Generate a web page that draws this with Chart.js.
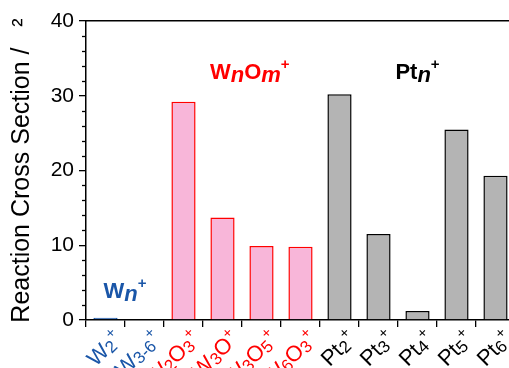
<!DOCTYPE html>
<html>
<head>
<meta charset="utf-8">
<script src="https://cdn.jsdelivr.net/npm/chart.js@4"></script>
<style>
  body { margin: 0; overflow: hidden; background: #fff; }
  #wrap { width: 525px; height: 368px; }
</style>
</head>
<body>
<div id="wrap"><canvas id="myChart"></canvas></div>
<script>
// ions on the x axis
const labels = ['W\u2082\u207A', 'W\u2083\u208B\u2086\u207A', 'W\u2082O\u2083\u207A', 'W\u2083O\u207A', 'W\u2083O\u2085\u207A', 'W\u2086O\u2083\u207A',
                'Pt\u2082\u207A', 'Pt\u2083\u207A', 'Pt\u2084\u207A', 'Pt\u2085\u207A', 'Pt\u2086\u207A'];
const groups = ['W', 'W', 'WO', 'WO', 'WO', 'WO', 'Pt', 'Pt', 'Pt', 'Pt', 'Pt'];
// reaction cross section values
const crossSection = [0.3, 0, 29.2, 13.7, 9.9, 9.8, 30.2, 11.5, 1.2, 25.5, 19.3];
const yTicks = [0, 10, 20, 30, 40];

const FONT = '"Liberation Sans", Arial, sans-serif';
const BLUE = '#1a56a8';
const RED = '#ff0000';

const fillFor = { W: BLUE, WO: '#f8b6d9', Pt: '#b4b4b4' };
const lineFor = { W: BLUE, WO: RED, Pt: '#000000' };
const textFor = { W: BLUE, WO: RED, Pt: '#000000' };

// minor ticks every 2 units on the y axis
const minorTicks = {
    id: 'minorTicks',
    afterDraw(chart) {
        const y = chart.scales.y;
        const ctx = chart.ctx;
        const x0 = chart.chartArea.left;
        ctx.save();
        ctx.strokeStyle = '#000';
        ctx.lineWidth = 1.3;
        for (let v = 0; v <= 40; v += 2) {
            if (v % 10 === 0) continue;
            const py = Math.round(y.getPixelForValue(v)) + 0.5;
            ctx.beginPath();
            ctx.moveTo(x0 - 4, py);
            ctx.lineTo(x0, py);
            ctx.stroke();
        }
        ctx.restore();
    }
};

function fontOf(p) {
    return (p.italic ? 'italic ' : '') + (p.bold ? 'bold ' : '') + p.size + 'px ' + FONT;
}

// group labels like W_n O_m +
function drawRich(ctx, cx, cy, parts, color) {
    ctx.save();
    ctx.fillStyle = color;
    ctx.textBaseline = 'middle';
    ctx.textAlign = 'left';
    let total = 0;
    parts.forEach(p => {
        p.bold = true;
        ctx.font = fontOf(p);
        p.w = ctx.measureText(p.t).width;
        total += p.w;
    });
    let x = cx - total / 2;
    parts.forEach(p => {
        ctx.font = fontOf(p);
        ctx.fillText(p.t, x, cy + (p.dy || 0));
        x += p.w;
    });
    ctx.restore();
}

const groupLabels = {
    id: 'groupLabels',
    afterDraw(chart) {
        const xs = chart.scales.x;
        const ys = chart.scales.y;
        const ctx = chart.ctx;
        drawRich(ctx, xs.getPixelForValue(0.5), ys.getPixelForValue(3.8), [
            { t: 'W', size: 22 },
            { t: 'n', size: 22, italic: true, dy: 3 },
            { t: '+', size: 15, dy: -8 }
        ], BLUE);
        drawRich(ctx, xs.getPixelForValue(3.7), ys.getPixelForValue(33), [
            { t: 'W', size: 22 },
            { t: 'n', size: 22, italic: true, dy: 3 },
            { t: 'O', size: 22 },
            { t: 'm', size: 22, italic: true, dy: 3 },
            { t: '+', size: 15, dy: -8 }
        ], RED);
        drawRich(ctx, xs.getPixelForValue(8), ys.getPixelForValue(33), [
            { t: 'Pt', size: 22 },
            { t: 'n', size: 22, italic: true, dy: 3 },
            { t: '+', size: 15, dy: -8 }
        ], '#000');
    }
};

// turn the unicode label into pieces: normal, subscript, superscript
const SUB = '\u2080\u2081\u2082\u2083\u2084\u2085\u2086\u2087\u2088\u2089';
function splitLabel(s) {
    const parts = [];
    for (const ch of s) {
        let p;
        const k = SUB.indexOf(ch);
        if (k >= 0) p = { t: String(k), size: 17, dy: 2 };
        else if (ch === '\u208B') p = { t: '-', size: 17, dy: 2 };
        else if (ch === '\u207A') p = { t: '+', size: 15, dy: -9 };
        else p = { t: ch, size: 22, dy: 0 };
        const last = parts[parts.length - 1];
        if (last && last.size === p.size && last.dy === p.dy) last.t += p.t;
        else parts.push(p);
    }
    return parts;
}

// rotated category labels drawn at the scale's tick positions
const xLabels = {
    id: 'xLabels',
    afterDraw(chart) {
        const xs = chart.scales.x;
        const ctx = chart.ctx;
        ctx.save();
        labels.forEach((lab, i) => {
            const parts = splitLabel(lab);
            let total = 0;
            parts.forEach(p => { ctx.font = fontOf(p); p.w = ctx.measureText(p.t).width; total += p.w; });
            ctx.save();
            ctx.translate(xs.getPixelForTick(i) + 5, xs.top + 7);
            ctx.rotate(-Math.PI / 4);
            ctx.fillStyle = textFor[groups[i]];
            ctx.textBaseline = 'alphabetic';
            ctx.textAlign = 'left';
            let x = -total;
            parts.forEach(p => {
                ctx.font = fontOf(p);
                ctx.fillText(p.t, x, 18 + p.dy);
                x += p.w;
            });
            ctx.restore();
        });
        ctx.restore();
    }
};

const ctx = document.getElementById('myChart').getContext('2d');
new Chart(ctx, {
    type: 'bar',
    data: {
        labels: labels,
        datasets: [{
            data: crossSection,
            backgroundColor: groups.map(g => fillFor[g]),
            borderColor: groups.map(g => lineFor[g]),
            borderWidth: 1.5,
            barPercentage: 0.62,
            categoryPercentage: 1
        }]
    },
    options: {
        responsive: true,
        maintainAspectRatio: false,
        animation: false,
        layout: { padding: { left: 0, right: 10, top: 0, bottom: 0 } },
        plugins: {
            legend: { display: false },
            tooltip: { enabled: false }
        },
        scales: {
            x: {
                position: 'bottom',
                afterFit: s => { s.height = 48; },
                grid: {
                    display: true,
                    drawOnChartArea: false,
                    offset: true,
                    tickLength: 7,
                    color: '#000',
                    lineWidth: 1.3
                },
                border: { display: true, color: '#000', width: 1.5 },
                ticks: { display: false }
            },
            x2: {
                type: 'category',
                position: 'top',
                afterFit: s => { s.height = 21; },
                grid: { display: false },
                border: { display: true, color: '#000', width: 1.5 },
                ticks: { display: false }
            },
            y: {
                min: 0,
                max: 40,
                afterFit: s => { s.width = 86; },
                afterBuildTicks: s => { s.ticks = yTicks.map(v => ({ value: v })); },
                grid: {
                    display: true,
                    drawOnChartArea: false,
                    tickLength: 7,
                    color: '#000',
                    lineWidth: 1.3
                },
                border: { display: true, color: '#000', width: 1.5 },
                ticks: {
                    padding: 5,
                    font: { family: FONT, size: 21 },
                    color: '#000'
                },
                title: {
                    display: true,
                    text: 'Reaction Cross Section /   \u00B2',
                    font: { family: FONT, size: 25 },
                    color: '#000',
                    padding: { top: 7, bottom: 0 }
                }
            }
        }
    },
    plugins: [minorTicks, groupLabels, xLabels]
});
</script>
</body>
</html>
